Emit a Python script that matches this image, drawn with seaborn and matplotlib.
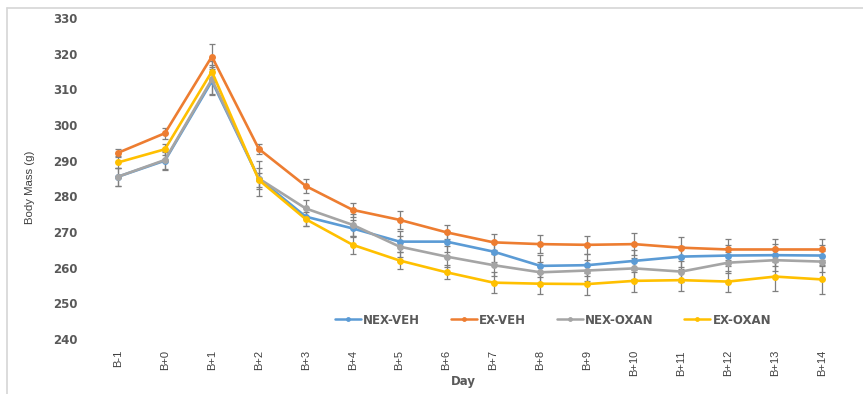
import numpy as np
import pandas as pd
import matplotlib
matplotlib.use("Agg")
import matplotlib.pyplot as plt
from matplotlib.lines import Line2D
import seaborn as sns

days = ["B-1", "B+0", "B+1", "B+2", "B+3", "B+4", "B+5", "B+6",
        "B+7", "B+8", "B+9", "B+10", "B+11", "B+12", "B+13", "B+14"]
groups = ["NEX-VEH", "EX-VEH", "NEX-OXAN", "EX-OXAN"]

nex_veh = [285.5, 290.0, 312.3, 285.0, 274.3, 271.0, 267.3, 267.3,
           264.5, 260.5, 260.7, 261.9, 263.1, 263.4, 263.5, 263.4]
ex_veh = [292.2, 297.7, 319.2, 293.3, 282.9, 276.2, 273.4, 269.9,
          267.1, 266.6, 266.4, 266.6, 265.6, 265.1, 265.1, 265.1]
nex_oxan = [285.5, 290.2, 312.8, 285.0, 276.6, 272.0, 265.9, 263.1,
            260.7, 258.7, 259.2, 259.8, 258.9, 261.4, 262.1, 261.7]
ex_oxan = [289.5, 293.2, 315.0, 284.6, 273.6, 266.4, 262.0, 258.7,
           255.8, 255.5, 255.4, 256.3, 256.5, 256.1, 257.5, 256.7]

nex_veh_err = [2.5, 2.5, 4.0, 3.0, 2.5, 2.5, 3.0, 3.0, 3.0, 3.0, 3.0, 3.0, 3.0, 3.0, 3.0, 3.0]
ex_veh_err = [1.0, 1.5, 3.5, 1.5, 2.0, 2.0, 2.5, 2.0, 2.2, 2.5, 2.5, 3.0, 3.0, 3.0, 3.0, 3.0]
nex_oxan_err = [2.5, 2.5, 4.0, 5.0, 2.5, 3.0, 3.0, 3.0, 3.0, 3.0, 3.0, 3.0, 3.0, 3.0, 3.0, 3.0]
ex_oxan_err = [1.5, 1.5, 3.0, 2.0, 2.0, 2.5, 2.5, 2.0, 2.9, 3.0, 3.0, 3.0, 3.0, 3.0, 4.0, 4.0]

series = {"NEX-VEH": nex_veh, "EX-VEH": ex_veh,
          "NEX-OXAN": nex_oxan, "EX-OXAN": ex_oxan}
errors = {"NEX-VEH": nex_veh_err, "EX-VEH": ex_veh_err,
          "NEX-OXAN": nex_oxan_err, "EX-OXAN": ex_oxan_err}
palette = {"NEX-VEH": "#5B9BD5", "EX-VEH": "#ED7D31",
           "NEX-OXAN": "#A5A5A5", "EX-OXAN": "#FFC000"}

pos = np.arange(len(days))
df = pd.DataFrame([
    {"pos": p, "day": d, "group": g, "mass": series[g][i], "err": errors[g][i]}
    for g in groups for i, (p, d) in enumerate(zip(pos, days))
])

sns.set_theme(style="white")
plt.rcParams["font.family"] = ["DejaVu Sans"]

fig = plt.figure(figsize=(8.63, 3.94), dpi=100)
ax = fig.add_axes([0.1095, 0.1396, 0.8703, 0.8147])

# error bars underneath the lines
for g in groups:
    sub = df[df.group == g]
    ax.errorbar(sub["pos"], sub["mass"], yerr=sub["err"], fmt="none",
                ecolor="#7f7f7f", elinewidth=0.9, capsize=2.5,
                capthick=0.9, zorder=1)

sns.lineplot(data=df, x="pos", y="mass", hue="group", hue_order=groups,
             palette=palette, marker="o", markersize=5, markeredgewidth=0,
             linewidth=1.9, ax=ax, legend=False, zorder=3)

ax.set_xlim(-0.5, len(days) - 0.5)
ax.set_ylim(240, 330)
ax.set_yticks(np.arange(240, 331, 10))
ax.set_xticks(pos)
ax.set_xticklabels(days, rotation=90, fontsize=8, family="Liberation Sans",
                   color="#404040")
for lab in ax.get_yticklabels():
    lab.set_fontsize(8.5)
    lab.set_fontweight("bold")
    lab.set_color("#595959")
ax.tick_params(axis="x", length=0, pad=8)
ax.tick_params(axis="y", length=0, pad=12)
for sp in ax.spines.values():
    sp.set_visible(False)
ax.set_facecolor("none")

ax.set_xlabel("")
ax.set_ylabel("")
fig.text(463 / 863, 1 - 382 / 394, "Day", ha="center", va="center",
         fontsize=8.5, fontweight="bold", color="#595959")
fig.text(30 / 863, 1 - 187 / 394, "Body Mass (g)", rotation=90, ha="center",
         va="center", fontsize=8.2, family="Liberation Sans", color="#404040")

handles = [Line2D([0], [0], color=palette[g], marker="o", markersize=3.5,
                  markeredgewidth=0, linewidth=1.8) for g in groups]
fig.legend(handles, groups, loc="center", bbox_to_anchor=(553 / 863, 1 - 320 / 394),
           ncol=4, frameon=False, handlelength=2.2, handletextpad=0.2,
           columnspacing=2.6, prop={"size": 8.5, "weight": "bold"},
           labelcolor="#595959")

# thin border lines framing the chart
fig.add_artist(Line2D([7 / 863, 1], [1 - 8 / 394, 1 - 8 / 394],
                      transform=fig.transFigure, color="#d6d6d6", linewidth=1.2))
fig.add_artist(Line2D([7 / 863, 7 / 863], [0, 1 - 8 / 394],
                      transform=fig.transFigure, color="#d6d6d6", linewidth=1.2))

fig.savefig("out.png", dpi=100)
